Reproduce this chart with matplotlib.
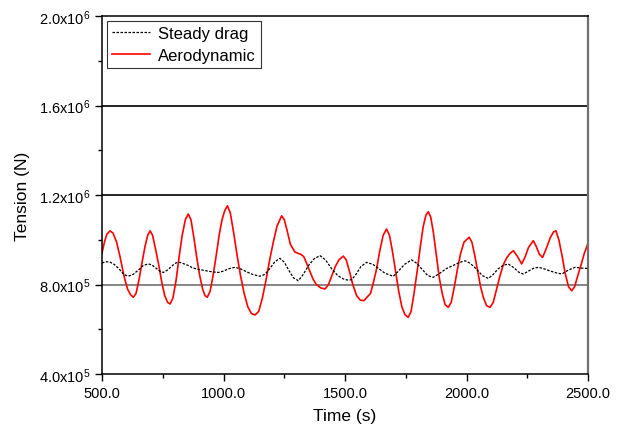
import matplotlib
matplotlib.use("Agg")
import matplotlib.pyplot as plt
from matplotlib.ticker import MultipleLocator, FuncFormatter

plt.rcParams["font.family"] = ["Liberation Sans", "DejaVu Sans"]
plt.rcParams["mathtext.fontset"] = "custom"
plt.rcParams["mathtext.rm"] = "Liberation Sans"

# steady drag (black dashed)
steady_t = [500, 515, 533, 550, 570, 590, 608, 628, 650, 670, 690, 705, 720, 737,
            752, 770, 790, 805, 821, 838, 855, 872, 890, 912, 935, 957, 979, 1000,
            1020, 1047, 1070, 1095, 1120, 1150, 1170, 1190, 1210, 1232, 1250, 1268,
            1288, 1308, 1328, 1350, 1373, 1397, 1420, 1445, 1470, 1493, 1510, 1527,
            1545, 1565, 1589, 1615, 1640, 1665, 1699, 1720, 1745, 1774, 1795, 1820,
            1840, 1863, 1890, 1915, 1945, 1970, 1994, 2015, 2040, 2065, 2090, 2110,
            2130, 2150, 2172, 2195, 2215, 2234, 2255, 2275, 2296, 2320, 2345, 2370,
            2392, 2420, 2447, 2475, 2499]
steady_v = [8.96e5, 9.02e5, 9.0e5, 8.9e5, 8.7e5, 8.45e5, 8.37e5, 8.45e5, 8.65e5,
            8.85e5, 8.92e5, 8.88e5, 8.75e5, 8.6e5, 8.54e5, 8.65e5, 8.85e5, 8.97e5,
            8.99e5, 8.92e5, 8.85e5, 8.75e5, 8.69e5, 8.65e5, 8.6e5, 8.56e5, 8.54e5,
            8.6e5, 8.7e5, 8.77e5, 8.7e5, 8.57e5, 8.45e5, 8.37e5, 8.45e5, 8.7e5,
            9.0e5, 9.17e5, 9.0e5, 8.65e5, 8.3e5, 8.17e5, 8.45e5, 8.85e5, 9.15e5,
            9.29e5, 9.1e5, 8.7e5, 8.4e5, 8.25e5, 8.2e5, 8.21e5, 8.45e5, 8.8e5,
            8.99e5, 8.9e5, 8.7e5, 8.5e5, 8.37e5, 8.6e5, 8.9e5, 9.1e5, 8.95e5,
            8.65e5, 8.4e5, 8.32e5, 8.5e5, 8.7e5, 8.85e5, 8.98e5, 9.06e5, 8.95e5,
            8.7e5, 8.4e5, 8.27e5, 8.45e5, 8.7e5, 8.85e5, 8.92e5, 8.75e5, 8.55e5,
            8.47e5, 8.6e5, 8.72e5, 8.77e5, 8.7e5, 8.6e5, 8.52e5, 8.47e5, 8.65e5,
            8.77e5, 8.73e5, 8.72e5]

# aerodynamic (red)
aero_t = [500, 510, 520, 533, 545, 560, 575, 590, 605, 617, 629, 640, 652, 665, 677,
          688, 698, 708, 720, 733, 746, 758, 770, 780, 792, 805, 818, 830, 843, 855,
          866, 878, 890, 902, 914, 924, 933, 945, 957, 970, 982, 994, 1005, 1016,
          1028, 1042, 1056, 1070, 1085, 1100, 1115, 1130, 1145, 1160, 1175, 1190,
          1205, 1220, 1239, 1250, 1262, 1275, 1294, 1305, 1318, 1330, 1342, 1355,
          1368, 1382, 1400, 1418, 1432, 1446, 1460, 1475, 1493, 1505, 1518, 1532,
          1548, 1563, 1578, 1592, 1605, 1617, 1630, 1643, 1657, 1671, 1683, 1695,
          1708, 1721, 1734, 1747, 1760, 1772, 1784, 1797, 1810, 1822, 1833, 1843,
          1853, 1864, 1876, 1888, 1900, 1912, 1925, 1937, 1950, 1963, 1976, 1990,
          2011, 2022, 2034, 2046, 2058, 2070, 2083, 2097, 2110, 2124, 2138, 2152,
          2166, 2180, 2193, 2210, 2227, 2240, 2255, 2275, 2287, 2300, 2313, 2328,
          2345, 2358, 2368, 2380, 2393, 2406, 2420, 2433, 2445, 2458, 2472, 2485,
          2499]
aero_v = [9.4e5, 9.9e5, 1.025e6, 1.04e6, 1.03e6, 9.9e5, 9.2e5, 8.4e5, 7.8e5, 7.55e5,
          7.43e5, 7.6e5, 8.2e5, 9.0e5, 9.7e5, 1.02e6, 1.04e6, 1.02e6, 9.6e5, 8.9e5,
          8.1e5, 7.5e5, 7.2e5, 7.13e5, 7.4e5, 8.2e5, 9.3e5, 1.02e6, 1.09e6, 1.115e6,
          1.09e6, 1.01e6, 9.2e5, 8.4e5, 7.8e5, 7.5e5, 7.43e5, 7.7e5, 8.4e5, 9.3e5,
          1.02e6, 1.09e6, 1.13e6, 1.152e6, 1.12e6, 1.03e6, 9.3e5, 8.4e5, 7.6e5,
          7.0e5, 6.7e5, 6.64e5, 6.8e5, 7.4e5, 8.2e5, 9.1e5, 9.9e5, 1.06e6, 1.107e6,
          1.09e6, 1.04e6, 9.8e5, 9.45e5, 9.4e5, 9.35e5, 9.25e5, 8.95e5, 8.6e5,
          8.25e5, 8.0e5, 7.85e5, 7.8e5, 8.0e5, 8.4e5, 8.8e5, 9.1e5, 9.27e5, 9.1e5,
          8.6e5, 8.0e5, 7.5e5, 7.3e5, 7.28e5, 7.45e5, 7.6e5, 8.1e5, 8.7e5, 9.5e5,
          1.02e6, 1.048e6, 1.02e6, 9.5e5, 8.6e5, 7.7e5, 7.0e5, 6.65e5, 6.53e5,
          6.8e5, 7.6e5, 8.6e5, 9.7e5, 1.06e6, 1.11e6, 1.125e6, 1.1e6, 1.03e6,
          9.3e5, 8.3e5, 7.6e5, 7.1e5, 6.98e5, 7.2e5, 7.9e5, 8.7e5, 9.4e5, 9.9e5,
          1.011e6, 9.9e5, 9.3e5, 8.6e5, 7.9e5, 7.4e5, 7.05e5, 6.98e5, 7.2e5,
          7.8e5, 8.4e5, 8.9e5, 9.2e5, 9.4e5, 9.51e5, 9.25e5, 8.92e5, 9.2e5,
          9.65e5, 9.96e5, 9.7e5, 9.35e5, 9.21e5, 9.6e5, 1.01e6, 1.035e6, 1.04e6,
          1.0e6, 9.3e5, 8.5e5, 7.9e5, 7.72e5, 7.9e5, 8.4e5, 8.9e5, 9.4e5, 9.81e5]

grid_levels = [8e5, 1.2e6, 1.6e6]

fig = plt.figure(figsize=(6.27, 4.35), dpi=100)
ax = fig.add_axes([0.1627, 0.1379, 0.7751, 0.8230])

for g in grid_levels:
    c = "#707070" if g == 8e5 else "black"
    ax.axhline(g, color=c, linewidth=1.2, zorder=1)

ax.plot(steady_t, steady_v, color="black", linestyle=(0, (2.0, 1.2)),
        linewidth=0.9, label="Steady drag", zorder=3)
ax.plot(aero_t, aero_v, color="red", linewidth=1.2, label="Aerodynamic", zorder=2)

ax.set_xlim(500, 2500)
ax.set_ylim(4e5, 2e6)

ax.xaxis.set_major_locator(MultipleLocator(500))
ax.xaxis.set_minor_locator(MultipleLocator(250))
ax.yaxis.set_major_locator(MultipleLocator(4e5))
ax.yaxis.set_minor_locator(MultipleLocator(2e5))

ax.xaxis.set_major_formatter(FuncFormatter(lambda v, p: f"{v:.1f}"))


def sci_fmt(v, p):
    exp = 5 if v < 1e6 else 6
    return r"$\mathregular{%.1fx10^{%d}}$" % (v / 10 ** exp, exp)


ax.yaxis.set_major_formatter(FuncFormatter(sci_fmt))

ax.tick_params(axis="both", which="both", direction="out", top=False, right=False,
               labelsize=10.5, width=1, color="black")
ax.tick_params(which="major", length=5)
ax.tick_params(which="minor", length=3)

for s in ["left", "bottom", "top"]:
    ax.spines[s].set_color("black")
    ax.spines[s].set_linewidth(1.1)
ax.spines["right"].set_color("#707070")
ax.spines["right"].set_linewidth(1.6)

ax.set_xlabel("Time (s)", fontsize=12.5, labelpad=6)
ax.set_ylabel("Tension (N)", fontsize=12.5, labelpad=6)

leg = ax.legend(loc="upper left", fontsize=12, frameon=True, fancybox=False,
                edgecolor="black", borderpad=0.3, labelspacing=0.4,
                handlelength=2.3, handletextpad=0.45, borderaxespad=0.3)
leg.get_frame().set_linewidth(0.8)

fig.savefig("out.png", dpi=100)
